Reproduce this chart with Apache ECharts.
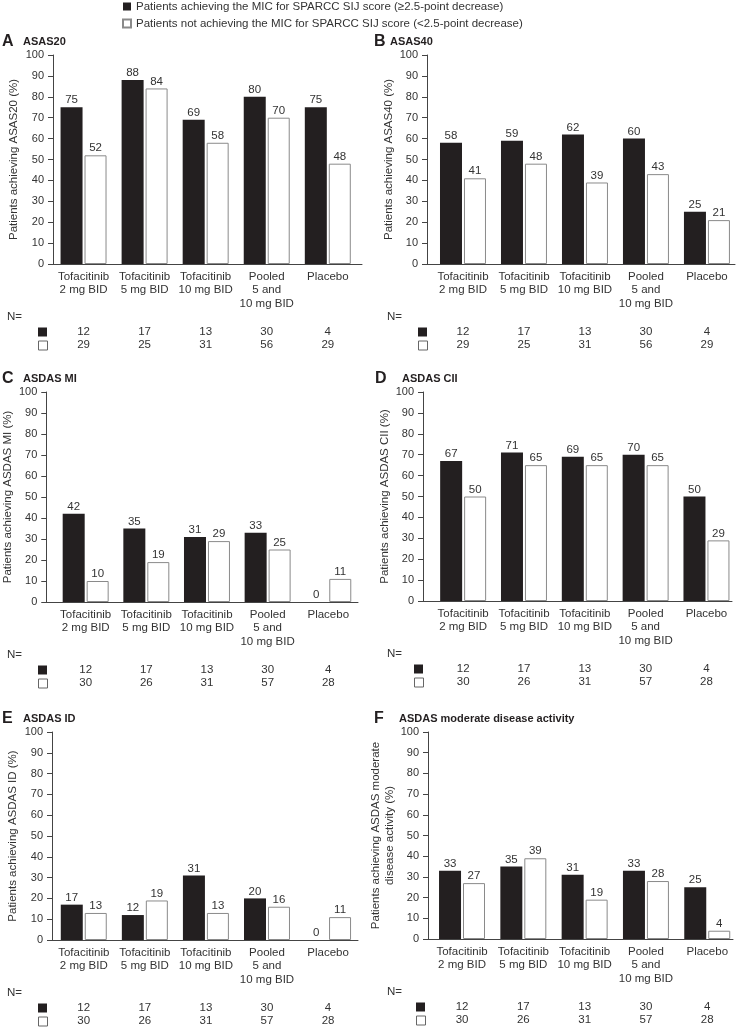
<!DOCTYPE html>
<html>
<head>
<meta charset="utf-8">
<script src="https://cdn.jsdelivr.net/npm/echarts@6/dist/echarts.min.js"></script>
<style>
html,body{margin:0;padding:0;background:#fff;}
#chart{width:740px;height:1029px;}
</style>
</head>
<body>
<div id="chart"></div>
<script>
// ---------- DATA ----------
const categories = ['Tofacitinib\n2 mg BID', 'Tofacitinib\n5 mg BID', 'Tofacitinib\n10 mg BID', 'Pooled\n5 and\n10 mg BID', 'Placebo'];
const seriesAchieving = 'Patients achieving the MIC for SPARCC SIJ score (\u22652.5-point decrease)';
const seriesNotAchieving = 'Patients not achieving the MIC for SPARCC SIJ score (<2.5-point decrease)';

const panelLetters = ['A', 'B', 'C', 'D', 'E', 'F'];
const panelTitles = ['ASAS20', 'ASAS40', 'ASDAS MI', 'ASDAS CII', 'ASDAS ID', 'ASDAS moderate disease activity'];
const yAxisNames = [
  'Patients achieving ASAS20 (%)',
  'Patients achieving ASAS40 (%)',
  'Patients achieving ASDAS MI (%)',
  'Patients achieving ASDAS CII (%)',
  'Patients achieving ASDAS ID (%)',
  'Patients achieving ASDAS moderate\ndisease activity (%)'
];
const yTicks = [0, 10, 20, 30, 40, 50, 60, 70, 80, 90, 100];

const asas20Achieving = [75, 88, 69, 80, 75];
const asas20NotAchieving = [52, 84, 58, 70, 48];
const asas40Achieving = [58, 59, 62, 60, 25];
const asas40NotAchieving = [41, 48, 39, 43, 21];
const asdasMiAchieving = [42, 35, 31, 33, 0];
const asdasMiNotAchieving = [10, 19, 29, 25, 11];
const asdasCiiAchieving = [67, 71, 69, 70, 50];
const asdasCiiNotAchieving = [50, 65, 65, 65, 29];
const asdasIdAchieving = [17, 12, 31, 20, 0];
const asdasIdNotAchieving = [13, 19, 13, 16, 11];
const asdasModAchieving = [33, 35, 31, 33, 25];
const asdasModNotAchieving = [27, 39, 19, 28, 4];

const nAchievingAsas = [12, 17, 13, 30, 4];
const nNotAchievingAsas = [29, 25, 31, 56, 29];
const nAchievingAsdas = [12, 17, 13, 30, 4];
const nNotAchievingAsdas = [30, 26, 31, 57, 28];

const achievingByPanel = [asas20Achieving, asas40Achieving, asdasMiAchieving, asdasCiiAchieving, asdasIdAchieving, asdasModAchieving];
const notAchievingByPanel = [asas20NotAchieving, asas40NotAchieving, asdasMiNotAchieving, asdasCiiNotAchieving, asdasIdNotAchieving, asdasModNotAchieving];
const nAchievingByPanel = [nAchievingAsas, nAchievingAsas, nAchievingAsdas, nAchievingAsdas, nAchievingAsdas, nAchievingAsdas];
const nNotAchievingByPanel = [nNotAchievingAsas, nNotAchievingAsas, nNotAchievingAsdas, nNotAchievingAsdas, nNotAchievingAsdas, nNotAchievingAsdas];

// ---------- LAYOUT ----------
const FONT = '"Liberation Sans", Arial, Helvetica, sans-serif';
const TXT = '#333';
const DARK = '#231f20';
const layout = [
  { x: 53,  end: 362, top: 55,  bottom: 264, xmin: -0.50, xmax: 4.56, nameGap: 32, titleX: 2,   letterW: 21, nX: 7,   sqX: 38 },
  { x: 427, end: 735, top: 55,  bottom: 264, xmin: -0.59, xmax: 4.46, nameGap: 25, titleX: 374, letterW: 16, nX: 387, sqX: 418 },
  { x: 44,  end: 358, top: 392, bottom: 602, xmin: -0.65, xmax: 4.49, nameGap: 24, titleX: 2,   letterW: 21, nX: 7,   sqX: 38 },
  { x: 423, end: 732, top: 392, bottom: 601, xmin: -0.66, xmax: 4.42, nameGap: 22, titleX: 375, letterW: 27, nX: 387, sqX: 414 },
  { x: 52,  end: 358, top: 732, bottom: 940, xmin: -0.52, xmax: 4.49, nameGap: 32, titleX: 2,   letterW: 21, nX: 7,   sqX: 38 },
  { x: 428, end: 733, top: 732, bottom: 939, xmin: -0.555, xmax: 4.42, nameGap: 26, titleX: 374, letterW: 25, nX: 387, sqX: 416 }
];
const catIdx = categories.map((c, i) => i);

const grids = [], xAxes = [], yAxes = [], series = [], titles = [], graphics = [];

layout.forEach((L, i) => {
  grids.push({ left: L.x, top: L.top, width: L.end - L.x, height: L.bottom - L.top, containLabel: false });

  const baseX = { type: 'value', gridIndex: i, min: L.xmin, max: L.xmax, position: 'bottom',
    splitLine: { show: false }, axisTick: { show: false } };
  xAxes.push(Object.assign({}, baseX, {
    axisLine: { show: true, onZero: false, lineStyle: { color: '#444', width: 1 } },
    axisLabel: { customValues: catIdx, formatter: v => categories[Math.round(v)], fontFamily: FONT,
      fontSize: 11.5, lineHeight: 13.5, color: TXT, margin: 6 }
  }));
  xAxes.push(Object.assign({}, baseX, {
    offset: 61.5, axisLine: { show: false, onZero: false },
    axisLabel: { customValues: catIdx, formatter: v => String(nAchievingByPanel[i][Math.round(v)]), fontFamily: FONT,
      fontSize: 11.5, color: TXT, margin: 0 }
  }));
  xAxes.push(Object.assign({}, baseX, {
    offset: 75, axisLine: { show: false, onZero: false },
    axisLabel: { customValues: catIdx, formatter: v => String(nNotAchievingByPanel[i][Math.round(v)]), fontFamily: FONT,
      fontSize: 11.5, color: TXT, margin: 0 }
  }));

  yAxes.push({
    type: 'value', gridIndex: i, position: 'left', min: yTicks[0], max: yTicks[yTicks.length - 1], interval: yTicks[1] - yTicks[0],
    axisLine: { show: true, onZero: false, lineStyle: { color: '#444', width: 1 } },
    axisTick: { show: true, length: 5, lineStyle: { color: '#444' } },
    splitLine: { show: false },
    axisLabel: { fontFamily: FONT, fontSize: 11, color: TXT, margin: 9 },
    name: yAxisNames[i], nameLocation: 'middle', nameGap: L.nameGap, nameRotate: 90,
    nameTextStyle: { fontFamily: FONT, fontSize: 11.5, color: TXT, lineHeight: 14 }
  });

  const lbl = { show: true, position: 'top', distance: 1, fontFamily: FONT, fontSize: 11.5, color: TXT,
    formatter: p => String(p.value[1]) };
  series.push({
    type: 'bar', name: seriesAchieving, xAxisIndex: 3 * i, yAxisIndex: i,
    data: achievingByPanel[i].map((v, k) => [k, v]),
    barWidth: 22, barGap: '9%',
    itemStyle: { color: DARK, borderColor: DARK, borderWidth: 0 },
    label: lbl
  });
  series.push({
    type: 'bar', name: seriesNotAchieving, xAxisIndex: 3 * i, yAxisIndex: i,
    data: notAchievingByPanel[i].map((v, k) => [k, v]),
    barWidth: 22, barGap: '9%',
    itemStyle: { color: '#ffffff', borderColor: '#8a8a8a', borderWidth: 1 },
    label: lbl
  });

  titles.push({
    left: L.titleX, top: L.top - 22, padding: 0,
    text: '{l|' + panelLetters[i] + '}{t|' + panelTitles[i] + '}',
    textStyle: { rich: {
      l: { fontFamily: FONT, fontSize: 16, fontWeight: 'bold', color: DARK, width: L.letterW, lineHeight: 18 },
      t: { fontFamily: FONT, fontSize: 11, fontWeight: 'bold', color: DARK, lineHeight: 18 }
    } }
  });

  graphics.push({ type: 'text', x: L.nX, y: L.bottom + 53,
    style: { text: 'N=', fontFamily: FONT, fontSize: 11.5, fill: TXT, verticalAlign: 'middle' } });
  graphics.push({ type: 'rect', shape: { x: L.sqX, y: L.bottom + 68 - 4.5, width: 9, height: 9 },
    style: { fill: DARK } });
  graphics.push({ type: 'rect', shape: { x: L.sqX + 0.5, y: L.bottom + 81.5 - 4.5, width: 9, height: 9 },
    style: { fill: '#fff', stroke: '#666', lineWidth: 1 } });
});

const option = {
  backgroundColor: '#fff',
  animation: false,
  textStyle: { fontFamily: FONT },
  title: titles,
  legend: {
    orient: 'vertical', left: 122, top: 0, padding: 0,
    itemWidth: 8, itemHeight: 8, itemGap: 4, icon: 'rect',
    data: [seriesAchieving, seriesNotAchieving],
    textStyle: { fontFamily: FONT, fontSize: 11.5, color: TXT, lineHeight: 13 },
    selectedMode: false
  },
  grid: grids,
  xAxis: xAxes,
  yAxis: yAxes,
  series: series,
  graphic: graphics
};

const chart = echarts.init(document.getElementById('chart'), null, { renderer: 'canvas' });
chart.setOption(option);
</script>
</body>
</html>
